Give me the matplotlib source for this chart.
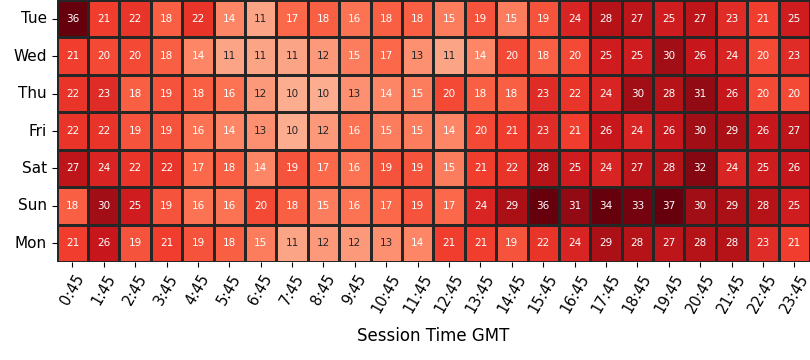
import numpy as np
import matplotlib
matplotlib.use("Agg")
import matplotlib.pyplot as plt
import seaborn as sns

days = ["Tue", "Wed", "Thu", "Fri", "Sat", "Sun", "Mon"]
times = [f"{h}:45" for h in range(24)]

tue = [36, 21, 22, 18, 22, 14, 11, 17, 18, 16, 18, 18, 15, 19, 15, 19, 24, 28, 27, 25, 27, 23, 21, 25]
wed = [21, 20, 20, 18, 14, 11, 11, 11, 12, 15, 17, 13, 11, 14, 20, 18, 20, 25, 25, 30, 26, 24, 20, 23]
thu = [22, 23, 18, 19, 18, 16, 12, 10, 10, 13, 14, 15, 20, 18, 18, 23, 22, 24, 30, 28, 31, 26, 20, 20]
fri = [22, 22, 19, 19, 16, 14, 13, 10, 12, 16, 15, 15, 14, 20, 21, 23, 21, 26, 24, 26, 30, 29, 26, 27]
sat = [27, 24, 22, 22, 17, 18, 14, 19, 17, 16, 19, 19, 15, 21, 22, 28, 25, 24, 27, 28, 32, 24, 25, 26]
sun = [18, 30, 25, 19, 16, 16, 20, 18, 15, 16, 17, 19, 17, 24, 29, 36, 31, 34, 33, 37, 30, 29, 28, 25]
mon = [21, 26, 19, 21, 19, 18, 15, 11, 12, 12, 13, 14, 21, 21, 19, 22, 24, 29, 28, 27, 28, 28, 23, 21]

data = np.array([tue, wed, thu, fri, sat, sun, mon])

fig = plt.figure(figsize=(8.1, 3.6), dpi=100)
ax = fig.add_axes([0.070, 0.272, 0.930, 0.728])

sns.heatmap(data, ax=ax, cmap="Reds", vmin=0, vmax=34, annot=True, fmt="d",
            annot_kws={"fontsize": 7.5}, linewidths=1, linecolor="#262626",
            cbar=False, xticklabels=times, yticklabels=days)

ax.set_xticklabels(times, rotation=60, fontsize=10.5)
ax.set_yticklabels(days, rotation=0, fontsize=11)
ax.tick_params(axis="both", length=3.5)
ax.set_xlabel("Session Time GMT", fontsize=12, labelpad=8)

fig.savefig("out.png", dpi=100)
